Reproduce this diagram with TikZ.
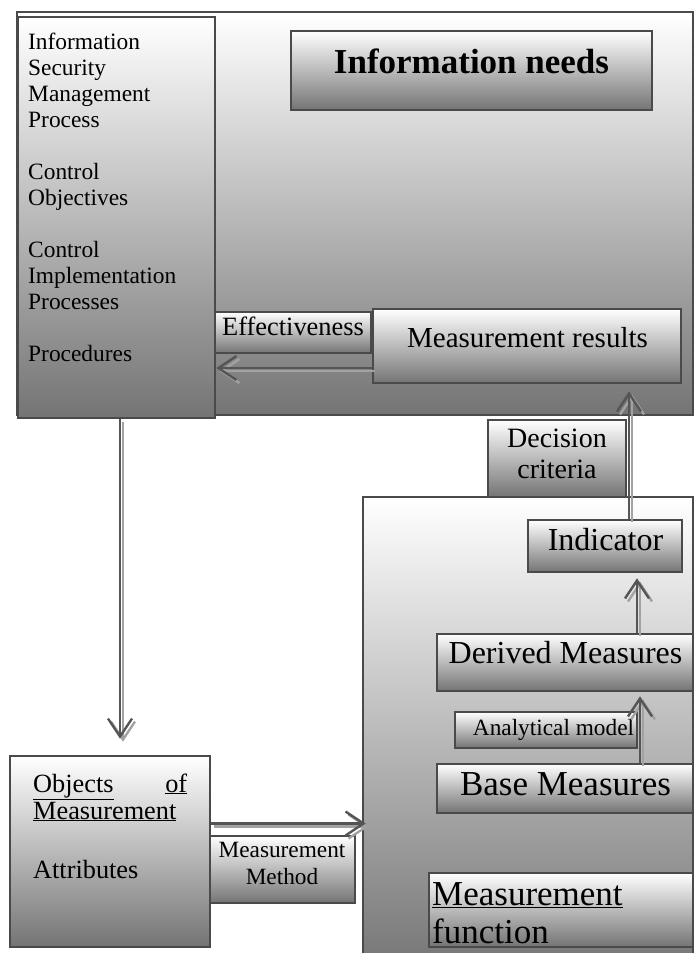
\documentclass[tikz,border=0pt]{standalone}
\usepackage{fontspec}
\setmainfont{Liberation Serif}
\usetikzlibrary{arrows.meta,calc,fit}
\definecolor{bord}{HTML}{4A4A4A}
\definecolor{arr}{HTML}{555555}
\definecolor{arrsh}{HTML}{A2A2A2}
\definecolor{shadebot}{HTML}{747474}
\tikzset{
  box/.style={draw=bord, line width=2.6pt, top color=white, bottom color=shadebot, inner sep=0pt, rectangle},
  lbl/.style={inner sep=0pt, anchor=base},
  conn/.style={draw=arr, line width=2.4pt, -{Straight Barb[length=18pt,width=24pt,line width=2.4pt]}},
  connsh/.style={draw=arrsh, line width=2.4pt, -{Straight Barb[length=18pt,width=24pt,line width=2.4pt]}, transform canvas={shift={(3pt,-3pt)}}},
}
\begin{document}
\begin{tikzpicture}[x=1pt,y=-1pt]
\useasboundingbox (0,0) rectangle (695,953);
% top region
\node[box, fit={(17,12) (693,415)}] (ot) {};
\node[box, fit={(18,17) (215,418)}] (lb) {};
\node[box, fit={(291,31) (652,110)}] (inf) {};
\node[box, fit={(215,312) (371,353)}] (eff) {};
\node[box, fit={(373,309) (681,383)}] (mr) {};
% middle / bottom
\node[box, fit={(488,420) (626,497)}] (dc) {};
\node[box, fit={(363,497) (693,975)}] (bb) {};
\node[box, fit={(528,520) (682,572)}] (ind) {};
\node[box, fit={(437,634) (693,691)}] (der) {};
\node[box, fit={(455,712) (637,748)}] (an) {};
\node[box, fit={(437,764) (693,813)}] (bm) {};
\node[box, fit={(429,873) (693,947)}] (mf) {};
\node[box, fit={(10,756) (210,947)}] (obj) {};
\node[box, fit={(210,836) (355,903)}] (mm) {};
% texts
\node[lbl, anchor=base west, text width=185pt, align=left, font=\fontsize{23.4}{26}\selectfont] (tlb) at (28,49)
  {Information\\Security\\Management\\Process\\[26pt]Control\\Objectives\\[26pt]Control\\Implementation\\Processes\\[26pt]Procedures};
\node[lbl, font=\fontsize{35}{40}\selectfont\bfseries] (tinf) at (471.5,73) {Information needs};
\node[lbl, font=\fontsize{26.4}{30}\selectfont] (teff) at (293,335) {Effectiveness};
\node[lbl, font=\fontsize{29}{33}\selectfont] (tmr) at (527.5,347) {Measurement results};
\node[lbl, text width=138pt, align=center, font=\fontsize{28}{31}\selectfont] (tdc) at (557,447) {Decision\\criteria};
\node[lbl, font=\fontsize{32}{36}\selectfont] (tind) at (605.5,550) {Indicator};
\node[lbl, font=\fontsize{32}{36}\selectfont] (tder) at (565.5,663) {Derived Measures};
\node[lbl, font=\fontsize{23.3}{27}\selectfont] (tan) at (553.5,735) {Analytical model};
\node[lbl, font=\fontsize{35}{40}\selectfont] (tbm) at (565.5,795) {Base Measures};
\node[lbl, anchor=base west, text width=260pt, align=left, font=\fontsize{35}{38}\selectfont] (tmf) at (432,905) {\underline{Measurement}\\function};
\node[lbl, anchor=base west, text width=154pt, align=left, font=\fontsize{26.3}{27}\selectfont] (tobj) at (33,792)
  {\underline{Objects}\hfill\underline{of}\\\underline{Measurement}\\[32pt]Attributes};
\node[lbl, text width=145pt, align=center, font=\fontsize{23.3}{27}\selectfont] (tmm) at (282,857) {Measurement\\Method};
% connectors
\coordinate (m1) at ($(mr.west)+(0,22)$);
\coordinate (l1) at ($(lb.south)+(3.5,0)$);
\coordinate (o1) at ($(obj.east)+(0,-28)$);
\coordinate (i1) at ($(ind.north)+(24,0)$);
\coordinate (d1) at ($(der.north)+(72,0)$);
\coordinate (b1) at ($(bm.north)+(75,0)$);
\draw[connsh] (m1) -- (m1 -| lb.east);
\draw[conn] (m1) -- (m1 -| lb.east);
\draw[connsh, shorten >=16pt] (l1) -- (l1 |- obj.north);
\draw[conn, shorten >=16pt] (l1) -- (l1 |- obj.north);
\draw[connsh, shorten >=-4pt] (o1) -- (o1 -| bb.west);
\draw[conn, shorten >=-4pt] (o1) -- (o1 -| bb.west);
\draw[connsh, shorten >=7pt] (i1) -- (i1 |- mr.south);
\draw[conn, shorten >=7pt] (i1) -- (i1 |- mr.south);
\draw[connsh, shorten >=5pt] (d1) -- (d1 |- ind.south);
\draw[conn, shorten >=5pt] (d1) -- (d1 |- ind.south);
\draw[connsh, shorten >=4pt] (b1) -- (b1 |- der.south);
\draw[conn, shorten >=4pt] (b1) -- (b1 |- der.south);
\end{tikzpicture}
\end{document}
